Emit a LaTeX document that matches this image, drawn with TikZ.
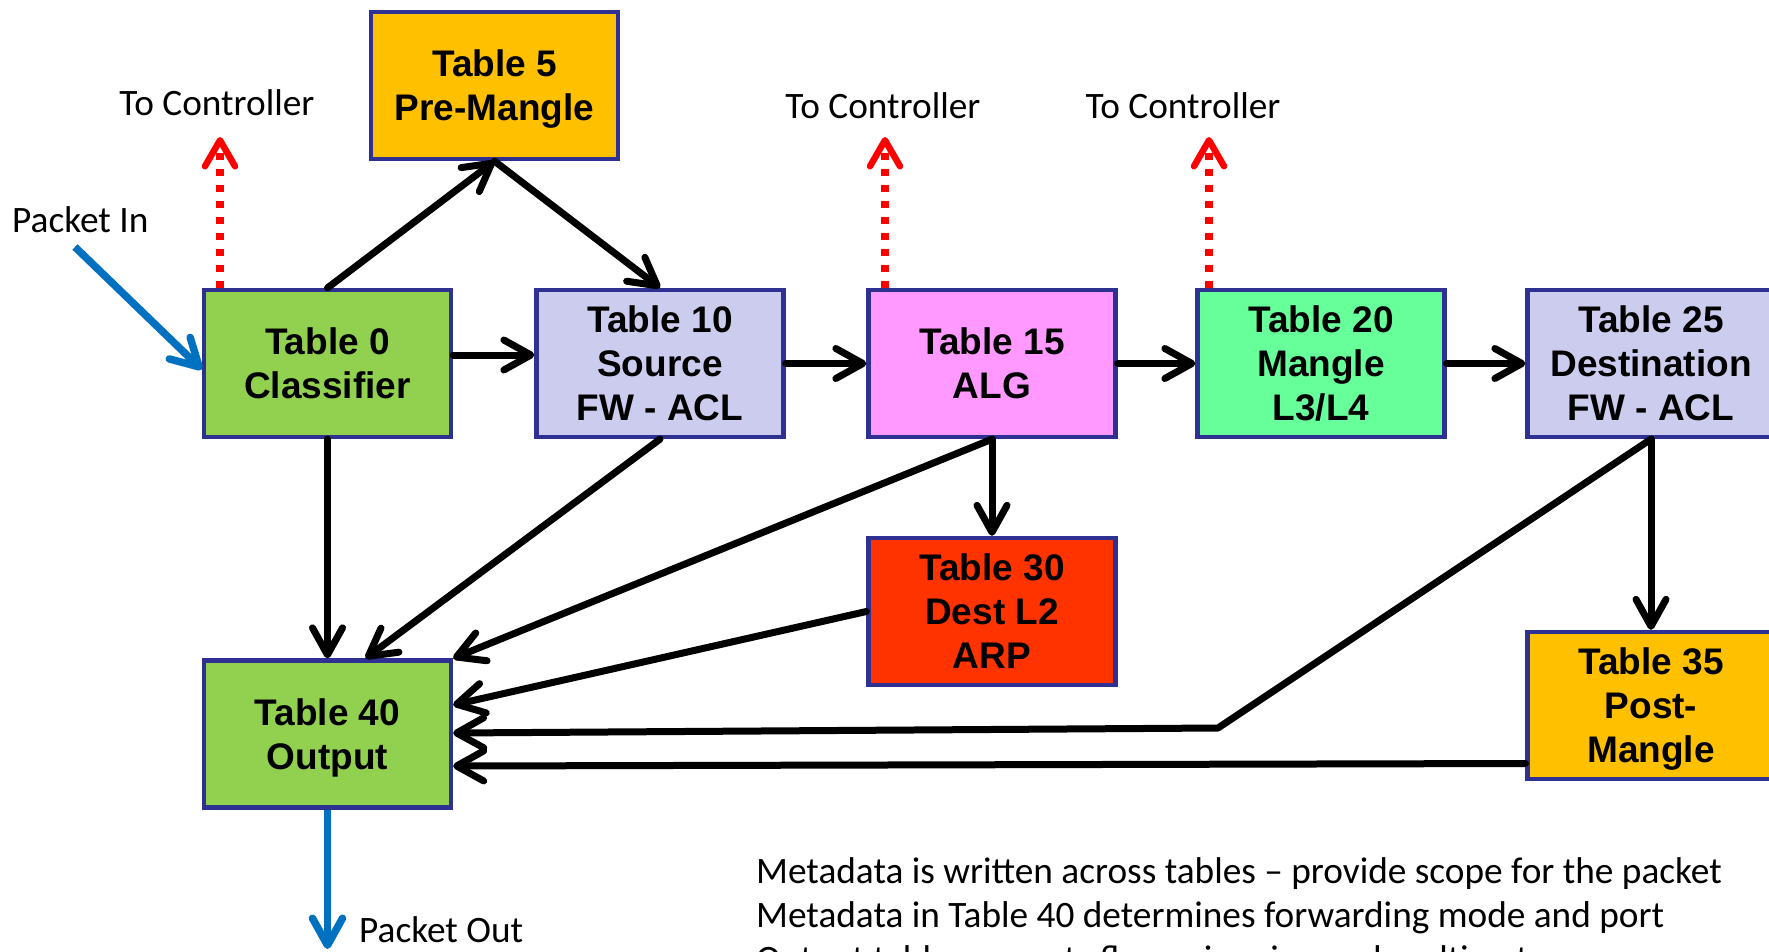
\documentclass[tikz,border=0pt]{standalone}
\usepackage{fontspec}
\setmainfont{Carlito}
\newfontfamily\tabfont{Liberation Sans}
\usetikzlibrary{arrows.meta}

\definecolor{tblborder}{RGB}{46,49,146}
\definecolor{goldfill}{RGB}{255,192,0}
\definecolor{greenfill}{RGB}{146,208,80}
\definecolor{lavfill}{RGB}{204,204,238}
\definecolor{pinkfill}{RGB}{255,153,255}
\definecolor{mintfill}{RGB}{102,255,153}
\definecolor{redfill}{RGB}{255,51,0}
\definecolor{ctrlred}{RGB}{255,0,0}
\definecolor{pktblue}{RGB}{0,112,192}

\tikzset{
  tbl/.style={draw=tblborder, line width=4.3pt, minimum width=247pt, minimum height=147pt,
    inner sep=0pt, align=center, text depth=0pt,
    font=\tabfont\bfseries\fontsize{37}{44}\selectfont},
  lbl/.style={inner sep=0pt, font=\fontsize{37.3}{44}\selectfont},
  flow/.style={draw=black, line width=7pt, line cap=round, line join=round,
    -{Straight Barb[length=27pt,width=30pt,round]}},
  ctrl/.style={draw=ctrlred, line width=7.5pt, dash pattern=on 7pt off 9pt,
    -{Straight Barb[length=26pt,width=30pt,round,line width=6.5pt]}},
  pkt/.style={draw=pktblue, line width=7.5pt,
    -{Straight Barb[length=27pt,width=30pt,round]}}
}

\begin{document}
\begin{tikzpicture}[x=1pt,y=-1pt]
\fill[white] (0,0) rectangle (1769,951);
\useasboundingbox (0,0) rectangle (1769,951);

% flow tables
\node[tbl, fill=goldfill]  (t5)  at (494.5,85.5)  {Table 5\\Pre-Mangle};
\node[tbl, fill=greenfill] (t0)  at (327.5,363.5) {Table 0\\Classifier};
\node[tbl, fill=lavfill]   (t10) at (660,363.5)   {Table 10\\Source\\FW - ACL};
\node[tbl, fill=pinkfill]  (t15) at (992,363.5)   {Table 15\\ALG};
\node[tbl, fill=mintfill]  (t20) at (1321,363.5)  {Table 20\\Mangle\\L3/L4};
\node[tbl, fill=lavfill]   (t25) at (1651,363.5)  {Table 25\\Destination\\FW - ACL};
\node[tbl, fill=redfill]   (t30) at (992,611.5)   {Table 30\\Dest L2\\ARP};
\node[tbl, fill=goldfill]  (t35) at (1651,705.5)  {Table 35\\Post-\\Mangle};
\node[tbl, fill=greenfill] (t40) at (327.5,734)   {Table 40\\Output};

% labels
\node[lbl, anchor=base] (tc0)  at (217,115)  {To Controller};
\node[lbl, anchor=base] (tc15) at (883,118)  {To Controller};
\node[lbl, anchor=base] (tc20) at (1183,118) {To Controller};
\node[lbl, anchor=base west] (pinlbl)  at (12,232)  {Packet In};
\node[lbl, anchor=base west] (poutlbl) at (359,942) {Packet Out};
\node[lbl, anchor=base west] (note1) at (756,883) {Metadata is written across tables -- provide scope for the packet};
\node[lbl, anchor=base west] (note2) at (756,927) {Metadata in Table 40 determines forwarding mode and port};
\node[lbl, anchor=base west] (note3) at (756,971) {Output table supports flow mirroring and multicast};

% free ends
\coordinate (up0)  at (220,137);
\coordinate (up15) at (885,137);
\coordinate (up20) at (1209,137);
\coordinate (pktin) at (75,247);
\coordinate (pktout) at (327.5,949);
\coordinate (bend) at (1218,728);

% main pipeline
\draw[flow] (t0.north) -- (t5.south);
\draw[flow] (t5.south) -- (t10.north);
\draw[flow] ([yshift=8.5pt]t0.east) -- ([yshift=8.5pt]t10.west);
\draw[flow] (t10.east) -- (t15.west);
\draw[flow] (t15.east) -- (t20.west);
\draw[flow] (t20.east) -- (t25.west);
\draw[flow] (t15.south) -- (t30.north);
\draw[flow] (t25.south) -- (t35.north);

% into the output table
\draw[flow] (t0.south) -- (t40.north);
\draw[flow] (t10.south) -- ([xshift=38pt]t40.north);
\draw[flow] (t15.south) -- (t40.north east);
\draw[flow] (t30.west) -- ([yshift=29pt]t40.east);
\draw[flow] (t25.south) -- (bend) -- ([yshift=1pt]t40.east);
\draw[flow] ([yshift=-58pt]t35.west) -- ([yshift=-32pt]t40.east);

% punts to the controller
\draw[ctrl] ([xshift=-107.5pt]t0.north) -- (up0);
\draw[ctrl] ([xshift=-107pt]t15.north) -- (up15);
\draw[ctrl] ([xshift=-112pt]t20.north) -- (up20);

% packet in / out
\draw[pkt] (pktin) -- ([yshift=-6pt]t0.west);
\draw[pkt] (t40.south) -- (pktout);
\end{tikzpicture}
\end{document}
